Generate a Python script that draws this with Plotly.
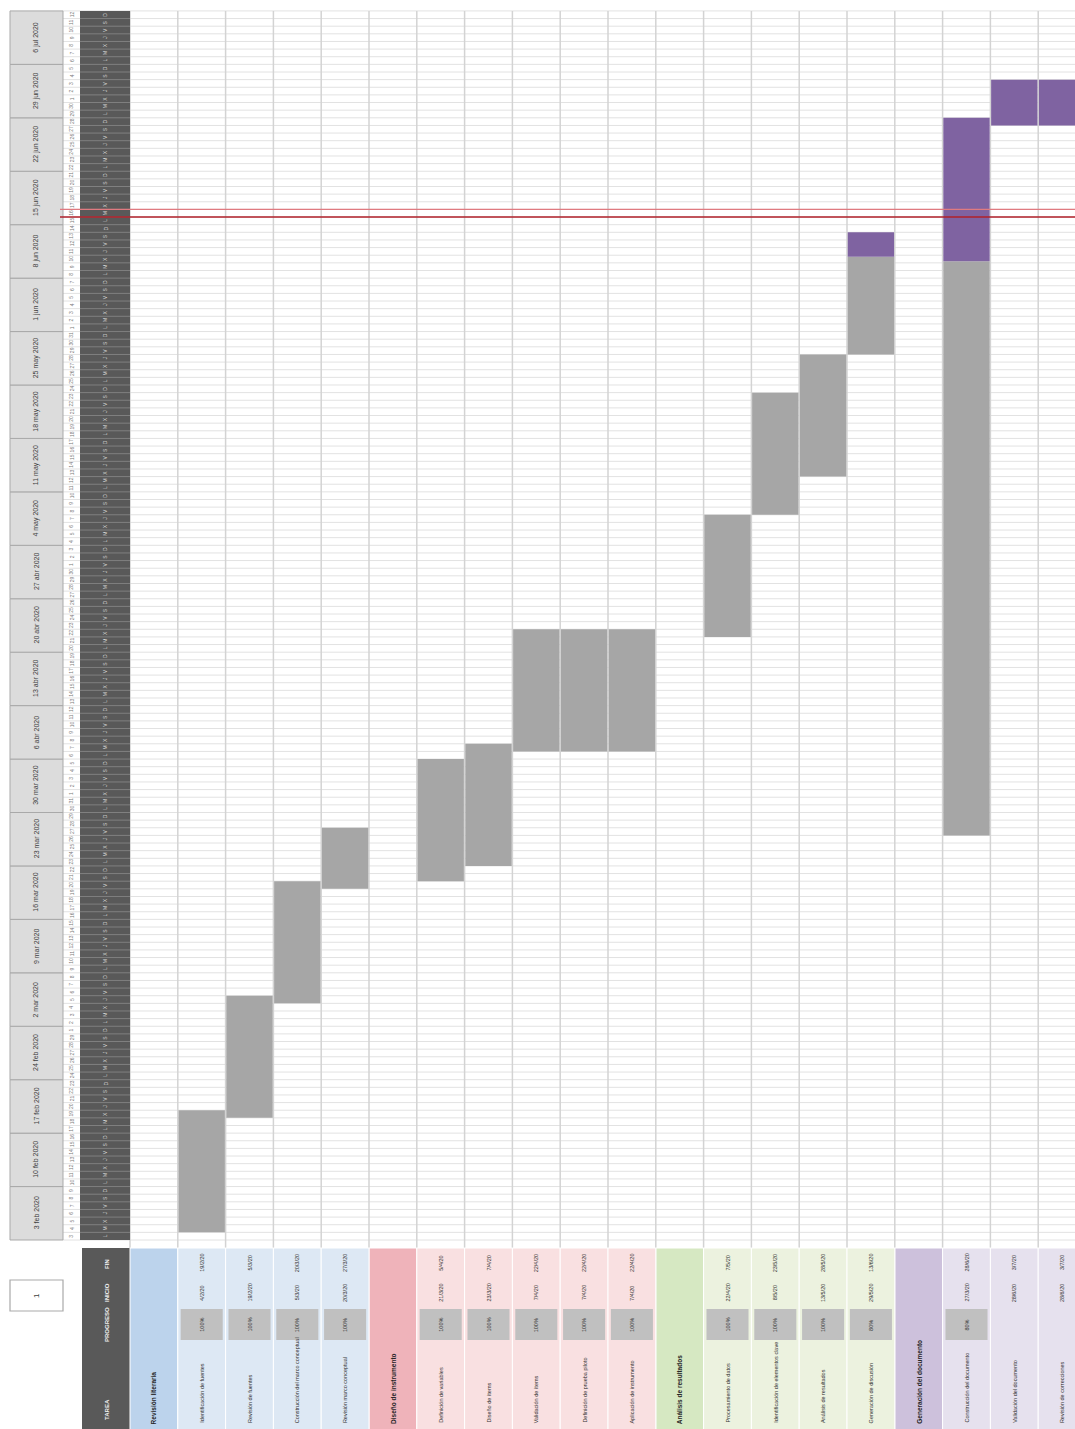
import plotly.graph_objects as go
import pandas as pd

# ---------------- data ----------------
project_start = "2020-02-03"
today = "2020-06-16"
n_weeks = 23
day_letters = ["L", "M", "X", "J", "V", "S", "D"]
month_abbr = ["ene", "feb", "mar", "abr", "may", "jun", "jul", "ago", "sep", "oct", "nov", "dic"]

sections = ["Revisión literaria", "Diseño de instrumento", "Análisis de resultados", "Generación del documento"]
section_header_colors = ["#bcd3ec", "#efb3ba", "#d6e8c2", "#cdc1dc"]
section_cell_colors = ["#dde8f4", "#f9e0e1", "#ecf2df", "#e6e1ee"]

task_names = [
    "Identificación de fuentes", "Revisión de fuentes", "Construcción del marco conceptual", "Revisión marco conceptual",
    "Definición de variables", "Diseño de ítems", "Validación de ítems", "Definición de prueba piloto", "Aplicación de instrumento",
    "Procesamiento de datos", "Identificación de elementos clave", "Análisis de resultados", "Generación de discusión",
    "Construcción del documento", "Validación del documento", "Revisión de correcciones",
]
task_section = [0, 0, 0, 0, 1, 1, 1, 1, 1, 2, 2, 2, 2, 3, 3, 3]
task_start = [
    "2020-02-04", "2020-02-19", "2020-03-05", "2020-03-20",
    "2020-03-21", "2020-03-23", "2020-04-07", "2020-04-07", "2020-04-07",
    "2020-04-22", "2020-05-08", "2020-05-13", "2020-05-29",
    "2020-03-27", "2020-06-28", "2020-06-28",
]
task_end = [
    "2020-02-19", "2020-03-05", "2020-03-20", "2020-03-27",
    "2020-04-05", "2020-04-07", "2020-04-22", "2020-04-22", "2020-04-22",
    "2020-05-07", "2020-05-23", "2020-05-28", "2020-06-13",
    "2020-06-28", "2020-07-03", "2020-07-03",
]
task_progress = [100, 100, 100, 100, 100, 100, 100, 100, 100, 100, 100, 100, 80, 80, 0, 0]

header_labels = ["FIN", "INICIO", "PROGRESO", "TAREA"]
display_week = "1"

# ---------------- geometry helpers (pixel -> data) ----------------
W, H = 1075, 1429
COLW = 47.8
DAYH = 7.634
X0 = 130.0
Y0 = 1240.0


def X(px):
    return (px - X0) / COLW


def Y(py):
    return (Y0 - py) / DAYH


FONT = "Liberation Sans Narrow, Arial Narrow, Liberation Sans, sans-serif"
GRAY_BAR = "#a6a6a6"
PURPLE_BAR = "#7f63a1"
DARK = "#595959"

p0 = pd.Timestamp(project_start)
starts = [(pd.Timestamp(s) - p0).days for s in task_start]
ends = [(pd.Timestamp(e) - p0).days + 1 for e in task_end]
durs = [e - s for s, e in zip(starts, ends)]
n_days = n_weeks * 7

# column layout: section header column followed by its tasks
col_of_task = []
section_col = []
col = 0
for si in range(len(sections)):
    section_col.append(col)
    col += 1
    for ti, ts in enumerate(task_section):
        if ts == si:
            col_of_task.append((ti, col))
            col += 1
col_of_task = dict(col_of_task)
n_cols = col
task_cols = [col_of_task[i] for i in range(len(task_names))]

shapes = []
annotations = []

# ----- day grid lines in chart (light) -----
for d in range(n_days + 1):
    shapes.append(dict(type="line", layer="below", xref="x", yref="y",
                       x0=X(63), x1=X(W + 5), y0=d, y1=d,
                       line=dict(color="#e2e2e2", width=1)))

# ----- vertical column lines -----
for c in range(n_cols + 1):
    shapes.append(dict(type="line", layer="below", xref="x", yref="y",
                       x0=c, x1=c, y0=Y(1248), y1=n_days,
                       line=dict(color="#d3d3d3", width=1.5)))

# ----- week label cells -----
for k in range(n_weeks):
    shapes.append(dict(type="rect", layer="below", xref="x", yref="y",
                       x0=X(10), x1=X(63), y0=7 * k, y1=7 * k + 7,
                       fillcolor="#dcdcdc", line=dict(color="#a9a9a9", width=1)))
    wd = p0 + pd.Timedelta(days=7 * k)
    annotations.append(dict(x=X(36), y=7 * k + 3.5, xref="x", yref="y",
                            text=f"{wd.day} {month_abbr[wd.month - 1]} {wd.year}",
                            textangle=-90, showarrow=False,
                            font=dict(family=FONT, size=7, color="#404040")))

# ----- dark day-letter column -----
shapes.append(dict(type="rect", layer="below", xref="x", yref="y",
                   x0=X(80), x1=X(130), y0=0, y1=n_days,
                   fillcolor=DARK, line=dict(width=0)))
for d in range(1, n_days):
    shapes.append(dict(type="line", layer="below", xref="x", yref="y",
                       x0=X(80), x1=X(130), y0=d, y1=d,
                       line=dict(color="#8a8a8a", width=0.8)))
for d in range(n_days):
    dt = p0 + pd.Timedelta(days=d)
    annotations.append(dict(x=X(71.5), y=d + 0.5, xref="x", yref="y",
                            text=str(dt.day), textangle=-90, showarrow=False,
                            font=dict(family=FONT, size=5, color="#7a7a7a")))
    annotations.append(dict(x=X(105), y=d + 0.5, xref="x", yref="y",
                            text=day_letters[d % 7], textangle=-90, showarrow=False,
                            font=dict(family=FONT, size=5, color="#d8d8d8")))

# ----- table region -----
shapes.append(dict(type="rect", layer="below", xref="x", yref="y",
                   x0=X(82), x1=X(130), y0=Y(H + 5), y1=Y(1248),
                   fillcolor=DARK, line=dict(width=0)))
header_py = [1264, 1293, 1325, 1410]
for lab, py in zip(header_labels, header_py):
    annotations.append(dict(x=X(107), y=Y(py), xref="x", yref="y", text=f"<b>{lab}</b>",
                            textangle=-90, showarrow=False,
                            font=dict(family=FONT, size=6, color="#f0f0f0")))

for si, sname in enumerate(sections):
    c = section_col[si]
    shapes.append(dict(type="rect", layer="below", xref="x", yref="y",
                       x0=c, x1=c + 1, y0=Y(H + 5), y1=Y(1248),
                       fillcolor=section_header_colors[si], line=dict(color="white", width=1)))
    annotations.append(dict(x=c + 0.5, y=Y(1426), xref="x", yref="y", text=f"<b>{sname}</b>",
                            textangle=-90, showarrow=False, yanchor="bottom",
                            font=dict(family=FONT, size=6.5, color="#262626")))

for ti, name in enumerate(task_names):
    c = task_cols[ti]
    si = task_section[ti]
    shapes.append(dict(type="rect", layer="below", xref="x", yref="y",
                       x0=c, x1=c + 1, y0=Y(H + 5), y1=Y(1248),
                       fillcolor=section_cell_colors[si], line=dict(color="white", width=1)))
    annotations.append(dict(x=c + 0.5, y=Y(1425), xref="x", yref="y", text=name,
                            textangle=-90, showarrow=False, yanchor="bottom",
                            font=dict(family=FONT, size=5.5, color="#333333")))
    if task_progress[ti] > 0:
        shapes.append(dict(type="rect", layer="below", xref="x", yref="y",
                           x0=c + 0.06, x1=c + 0.94, y0=Y(1340), y1=Y(1309),
                           fillcolor="#c0c0c0", line=dict(width=0)))
        annotations.append(dict(x=c + 0.5, y=Y(1325), xref="x", yref="y",
                                text=f"{task_progress[ti]}%", textangle=-90, showarrow=False,
                                font=dict(family=FONT, size=5.5, color="#333333")))
    s = pd.Timestamp(task_start[ti])
    e = pd.Timestamp(task_end[ti])
    annotations.append(dict(x=c + 0.5, y=Y(1293), xref="x", yref="y",
                            text=f"{s.day}/{s.month}/{s.strftime('%y')}", textangle=-90, showarrow=False,
                            font=dict(family=FONT, size=5.5, color="#333333")))
    annotations.append(dict(x=c + 0.5, y=Y(1263), xref="x", yref="y",
                            text=f"{e.day}/{e.month}/{e.strftime('%y')}", textangle=-90, showarrow=False,
                            font=dict(family=FONT, size=5.5, color="#333333")))

# ----- display-week box -----
shapes.append(dict(type="rect", layer="below", xref="x", yref="y",
                   x0=X(10), x1=X(63), y0=Y(1311), y1=Y(1280),
                   fillcolor="white", line=dict(color="#a9a9a9", width=1.2)))
annotations.append(dict(x=X(36.5), y=Y(1295.5), xref="x", yref="y", text=display_week,
                        textangle=-90, showarrow=False,
                        font=dict(family=FONT, size=8, color="#404040")))

# ----- today line -----
td = (pd.Timestamp(today) - p0).days
shapes.append(dict(type="line", layer="above", xref="x", yref="y",
                   x0=X(60), x1=X(W + 5), y0=td + 1, y1=td + 1,
                   line=dict(color="#e07a80", width=1.2)))
shapes.append(dict(type="line", layer="above", xref="x", yref="y",
                   x0=X(60), x1=X(W + 5), y0=td, y1=td,
                   line=dict(color="#b0202a", width=1.5)))

# ----- bars -----
done = [d * p / 100 for d, p in zip(durs, task_progress)]
remaining = [d - dn for d, dn in zip(durs, done)]
done_base = starts
rem_base = [s + dn for s, dn in zip(starts, done)]
bar_x = [c + 0.5 for c in task_cols]

fig = go.Figure()
fig.add_trace(go.Bar(x=bar_x, y=done, base=done_base, width=0.97,
                     marker=dict(color=GRAY_BAR, line=dict(width=0)),
                     name="Completado", hoverinfo="skip"))
fig.add_trace(go.Bar(x=bar_x, y=remaining, base=rem_base, width=0.97,
                     marker=dict(color=PURPLE_BAR, line=dict(width=0)),
                     name="Pendiente", hoverinfo="skip"))

fig.update_layout(
    width=W, height=H, autosize=False,
    margin=dict(l=0, r=0, t=0, b=0, pad=0),
    paper_bgcolor="white", plot_bgcolor="white",
    barmode="overlay", showlegend=False,
    xaxis=dict(range=[X(0), X(W)], visible=False, showgrid=False, zeroline=False, fixedrange=True),
    yaxis=dict(range=[Y(H), Y(0)], visible=False, showgrid=False, zeroline=False, fixedrange=True),
    shapes=shapes, annotations=annotations,
)

fig.write_html("out.html")
